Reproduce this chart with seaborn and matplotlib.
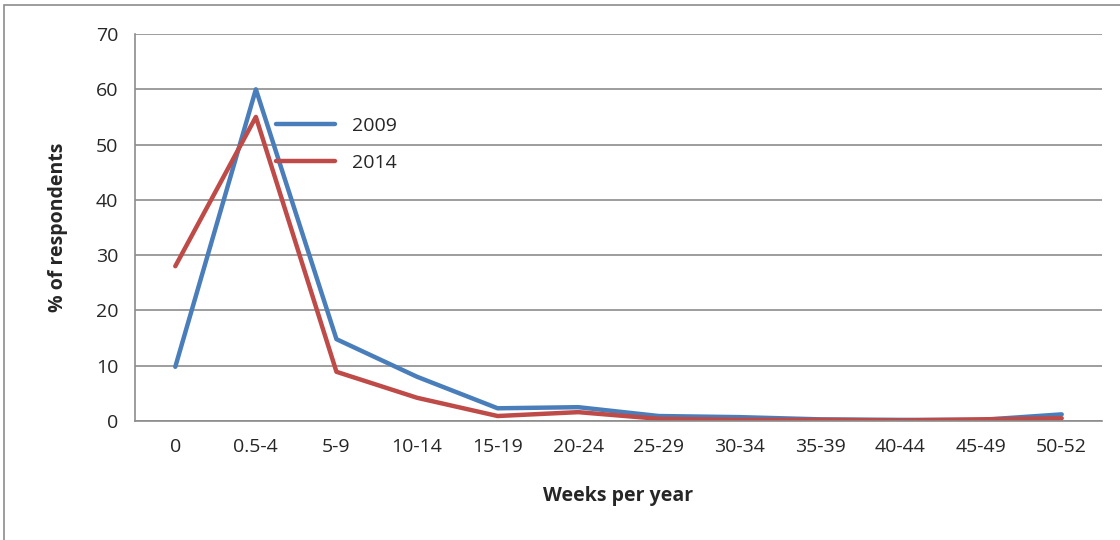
import pandas as pd
import matplotlib.pyplot as plt
import seaborn as sns
from matplotlib.patches import Rectangle

# Data
weeks = ['0', '0.5-4', '5-9', '10-14', '15-19', '20-24', '25-29', '30-34',
         '35-39', '40-44', '45-49', '50-52']
pct_2009 = [9.8, 60.0, 14.8, 8.0, 2.3, 2.5, 0.9, 0.7, 0.3, 0.2, 0.2, 1.2]
pct_2014 = [28.0, 55.0, 8.9, 4.2, 0.9, 1.6, 0.4, 0.2, 0.2, 0.1, 0.3, 0.5]

df = pd.DataFrame({
    'Weeks': weeks * 2,
    'Pct': pct_2009 + pct_2014,
    'Year': ['2009'] * len(weeks) + ['2014'] * len(weeks),
})

sns.set_style('white')
plt.rcParams['font.family'] = ['Open Sans', 'DejaVu Sans']

fig = plt.figure(figsize=(11.2, 5.4), dpi=100)
ax = fig.add_axes([135 / 1120, 1 - 421 / 540, 967 / 1120, 387 / 540])

sns.lineplot(data=df, x='Weeks', y='Pct', hue='Year', sort=False,
             palette={'2009': '#4a7ebb', '2014': '#be4b48'}, linewidth=3.2, ax=ax)

ax.set_xlim(-0.5, len(weeks) - 0.5)
ax.set_ylim(0, 70)
ax.set_yticks(range(0, 71, 10))
ax.yaxis.grid(True, color='#8c8c8c', linewidth=1.2)
ax.set_axisbelow(True)
for s in ['top', 'right']:
    ax.spines[s].set_visible(False)
for s in ['left', 'bottom']:
    ax.spines[s].set_color('#8c8c8c')
    ax.spines[s].set_linewidth(1.2)
ax.tick_params(axis='both', labelsize=14, length=0, pad=12)
ax.set_xlabel('Weeks per year', fontsize=14, fontweight='bold', labelpad=22)
ax.set_ylabel('% of respondents', fontsize=14, fontweight='bold', labelpad=20)

ax.legend(loc='upper left', bbox_to_anchor=(0.128, 0.83), frameon=False,
          fontsize=14, handlelength=3.0, labelspacing=0.95, handletextpad=0.9,
          title=None)

# outer chart frame
fig.patches.append(Rectangle((4 / 1120, -0.1), 1.2, 1 - 5 / 540 + 0.1,
                             transform=fig.transFigure, fill=False,
                             edgecolor='#8c8c8c', linewidth=1.2))

fig.savefig('out.png', dpi=100)
